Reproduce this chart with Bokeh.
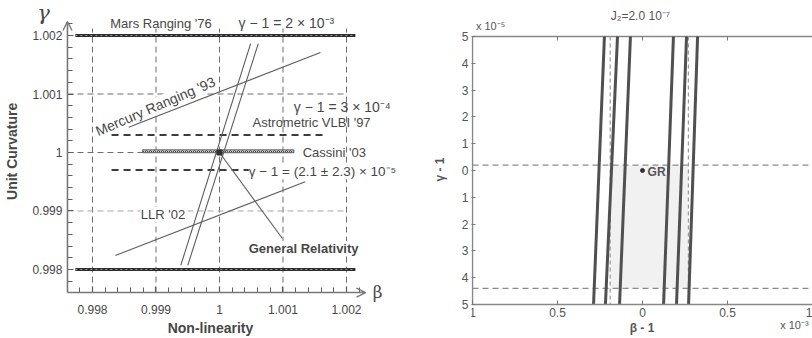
import math
from bokeh.plotting import figure
from bokeh.layouts import row
from bokeh.models import Range1d, FixedTicker, Label, Arrow, OpenHead
from bokeh.embed import file_html
from bokeh.resources import INLINE

FONT = "Liberation Sans"
INK = "#474747"
LINE = "#5c5c5c"

# ---------------- Left panel data (beta, gamma) ----------------
beta_ticks = [0.998, 0.999, 1.000, 1.001, 1.002]
beta_tick_labels = ["0.998", "0.999", "1", "1.001", "1.002"]
gamma_ticks = [0.998, 0.999, 1.000, 1.001, 1.002]
gamma_tick_labels = ["0.998", "0.999", "1", "1.001", "1.002"]
minor_ticks = [round(0.9978 + 0.0002 * i, 4) for i in range(23)]

mars_bound = 2e-3            # Mars Ranging '76 : gamma-1 = 2e-3
mars_beta_extent = [0.99773, 1.00214]
vlbi_bound = 3e-4            # Astrometric VLBI '97 : gamma-1 = 3e-4
vlbi_beta_extent = [0.99830, 1.00167]
cassini_center = 2.1e-5      # Cassini '03 : gamma-1 = (2.1 +- 2.3)e-5
cassini_sigma = 2.3e-5
cassini_beta_extent = [0.99879, 1.00117]

mercury_beta = [0.99857, 1.00159]
mercury_gamma = [1.00043, 1.00171]
llr_beta = [0.99836, 1.00135]
llr_gamma = [0.99824, 0.99950]
steep1_beta = [0.99939, 1.00049]
steep1_gamma = [0.99807, 1.00186]
steep2_beta = [0.99950, 1.00061]
steep2_gamma = [0.99807, 1.00186]
gr_beta = [1.0]
gr_gamma = [1.0]
gr_label_anchor = [1.00099, 0.99853]
grid_top = 1.00212

# ---------------- Right panel data (beta-1 [1e-3], gamma-1 [1e-5]) ----------------
dbeta_ticks = [-1, -0.5, 0, 0.5, 1]
dbeta_tick_labels = ["1", "0.5", "0", "0.5", "1"]
dgamma_ticks = [-5, -4, -3, -2, -1, 0, 1, 2, 3, 4, 5]
dgamma_tick_labels = ["5", "4", "3", "2", "1", "0", "1", "2", "3", "4", "5"]
band_dbeta_at_top = [-0.224, -0.147, -0.071, 0.182, 0.259, 0.324]
band_dbeta_at_bottom = [-0.288, -0.218, -0.135, 0.124, 0.200, 0.271]
cassini_dgamma = [-0.2, 4.4]
perihelion_dbeta = [-0.19, 0.27]
gr_dbeta = [0.0]
gr_dgamma = [0.0]

# ======================= LEFT FIGURE =======================
x_axis_at = 0.997606   # gamma value where the beta axis sits
y_axis_at = 0.997606   # beta value where the gamma axis sits
beta_arrow_tip = 1.00230
gamma_arrow_tip = 1.00224
xr = Range1d(0.9965512, 1.0031654)
yr = Range1d(0.9968205, 1.0025983)
left = figure(width=420, height=338, x_range=xr, y_range=yr, title=None,
              output_backend="svg", toolbar_location=None,
              min_border_left=0, min_border_right=0, min_border_top=0, min_border_bottom=0)
left.outline_line_color = None
left.grid.visible = False
left.background_fill_color = "white"
left.border_fill_color = "white"

for ax, ticks, labels in ((left.xaxis[0], beta_ticks, beta_tick_labels),
                          (left.yaxis[0], gamma_ticks, gamma_tick_labels)):
    ax.ticker = FixedTicker(ticks=ticks, minor_ticks=minor_ticks)
    ax.major_label_overrides = {t: l for t, l in zip(ticks, labels)}
    ax.axis_line_color = None
    ax.major_tick_in = 6
    ax.major_tick_out = 0
    ax.minor_tick_in = 5
    ax.minor_tick_out = 0
    ax.major_tick_line_color = LINE
    ax.minor_tick_line_color = LINE
    ax.major_tick_line_width = 1.2
    ax.major_label_text_font = FONT
    ax.major_label_text_font_size = "12px"
    ax.major_label_text_color = INK
    ax.axis_label_text_font = FONT
    ax.axis_label_text_font_size = "14px"
    ax.axis_label_text_font_style = "bold"
    ax.axis_label_text_color = INK

left.xaxis.fixed_location = x_axis_at
left.yaxis.fixed_location = y_axis_at
left.xaxis.axis_label = "Non-linearity"
left.xaxis.major_label_standoff = 12
left.xaxis.axis_label_standoff = 3
left.yaxis.major_label_standoff = 5

# dashed grid
left.segment(x0=beta_ticks, y0=[x_axis_at] * len(beta_ticks), x1=beta_ticks, y1=[grid_top] * len(beta_ticks),
             line_color="#6e6e6e", line_dash="6 4", line_width=1)
left.segment(x0=[y_axis_at], y0=[gamma_ticks[3]], x1=[beta_ticks[4]], y1=[gamma_ticks[3]],
             line_color="#6e6e6e", line_dash="6 4", line_width=1)
left.segment(x0=[y_axis_at], y0=[gamma_ticks[1]], x1=[beta_ticks[4]], y1=[gamma_ticks[1]],
             line_color="#a8a8a8", line_dash="6 4", line_width=1)
left.segment(x0=[y_axis_at], y0=[1.0], x1=[cassini_beta_extent[0]], y1=[1.0],
             line_color="#6e6e6e", line_dash="6 4", line_width=1)

# Mars ranging bounds
mars_y = [1 + mars_bound, 1 - mars_bound]
left.segment(x0=[mars_beta_extent[0]] * 2, y0=mars_y, x1=[mars_beta_extent[1]] * 2, y1=mars_y,
             line_color="#2e2e2e", line_width=3)
left.segment(x0=[mars_beta_extent[0]] * 2, y0=mars_y, x1=[mars_beta_extent[1]] * 2, y1=mars_y,
             line_color="#9a9a9a", line_width=1, line_dash="2 3")

# VLBI bounds
vlbi_y = [1 + vlbi_bound, 1 - vlbi_bound]
left.segment(x0=[vlbi_beta_extent[0]] * 2, y0=vlbi_y, x1=[vlbi_beta_extent[1]] * 2, y1=vlbi_y,
             line_color="#3c3c3c", line_width=2, line_dash="7 5")

# Cassini band
left.quad(left=[cassini_beta_extent[0]], right=[cassini_beta_extent[1]],
          bottom=[1 + cassini_center - cassini_sigma], top=[1 + cassini_center + cassini_sigma],
          fill_color="#d6d6d6", hatch_pattern="x", hatch_color="#444444", hatch_scale=4,
          hatch_weight=1, line_color="#707070", line_width=1.3)

# constraint lines
for bx, gy in ((mercury_beta, mercury_gamma), (llr_beta, llr_gamma),
               (steep1_beta, steep1_gamma), (steep2_beta, steep2_gamma)):
    left.line(bx, gy, line_color=LINE, line_width=1.1)

left.segment(x0=gr_beta, y0=gr_gamma, x1=[gr_label_anchor[0]], y1=[gr_label_anchor[1]],
             line_color="#666666", line_width=1.2)
left.scatter(gr_beta, gr_gamma, marker="square", size=5, color="#333333")

# axes lines with arrow heads
left.add_layout(Arrow(end=OpenHead(size=9, line_color="#777777", line_width=1.4),
                      x_start=y_axis_at, y_start=x_axis_at, x_end=y_axis_at, y_end=gamma_arrow_tip,
                      line_color="#777777", line_width=1.6))
left.add_layout(Arrow(end=OpenHead(size=9, line_color="#777777", line_width=1.4),
                      x_start=y_axis_at, y_start=x_axis_at, x_end=beta_arrow_tip, y_end=x_axis_at,
                      line_color="#777777", line_width=1.6))


def lab(fig, x, y, text, size="13px", style="normal", align="left", color=INK, font=FONT,
        angle=0.0, bg=None):
    fig.add_layout(Label(x=x, y=y, text=text, text_font=font, text_font_size=size,
                         text_font_style=style, text_align=align, text_baseline="middle",
                         text_color=color, angle=angle, background_fill_color=bg))


lab(left, 0.99674, 1.00002, "Unit Curvature", size="14px", style="bold", align="center",
    angle=math.pi / 2)
lab(left, 0.99723, 1.00239, "γ", size="21px", style="italic", align="center", font="DejaVu Serif")
lab(left, 1.00249, 0.99761, "β", size="17px", align="center", font="DejaVu Serif")
lab(left, 0.99828, 1.00221, "Mars Ranging '76")
lab(left, 1.00030, 1.00221, "γ − 1 = 2 × 10⁻³", size="14px")
lab(left, 1.00117, 1.00077, "γ − 1 = 3 × 10⁻⁴", size="14px")
lab(left, 1.00052, 1.00051, "Astrometric VLBI '97")
lab(left, 1.00131, 1.00000, "Cassini '03")
lab(left, 1.00046, 0.99967, "γ − 1 = (2.1 ± 2.3) × 10⁻⁵", size="13.5px", bg="white")
lab(left, 0.99876, 0.99894, "LLR '02", bg="white")
lab(left, 1.00046, 0.99836, "General Relativity", style="bold", bg="white")
lab(left, 0.99899, 1.00079, "Mercury Ranging '93", size="14px", align="center", angle=0.405, bg="white")

# ======================= RIGHT FIGURE =======================
right = figure(width=392, height=338, x_range=Range1d(-1.00588, 1.0), y_range=Range1d(6.269, -6.343),
               title=None, output_backend="svg", toolbar_location=None,
               min_border_left=51, min_border_right=0, min_border_top=0, min_border_bottom=0)
right.grid.visible = False
right.outline_line_color = None
right.background_fill_color = "white"
right.border_fill_color = "white"

for ax, ticks, labels in ((right.xaxis[0], dbeta_ticks, dbeta_tick_labels),
                          (right.yaxis[0], dgamma_ticks, dgamma_tick_labels)):
    ax.ticker = FixedTicker(ticks=ticks, minor_ticks=[])
    ax.major_label_overrides = {t: l for t, l in zip(ticks, labels)}
    ax.major_tick_in = 4
    ax.major_tick_out = 0
    ax.major_tick_line_color = "#777777"
    ax.major_label_text_font = FONT
    ax.major_label_text_font_size = "12px"
    ax.major_label_text_color = "#555555"
    ax.axis_label_text_font = FONT
    ax.axis_label_text_font_size = "12px"
    ax.axis_label_text_font_style = "bold"
    ax.axis_label_text_color = "#555555"

right.xaxis.axis_label = "β - 1"
right.xaxis.fixed_location = dgamma_ticks[-1]
right.xaxis.axis_line_color = "#888888"
right.xaxis.axis_line_width = 1.5
right.xaxis.major_label_standoff = 4
right.xaxis.axis_label_standoff = 0
right.yaxis.axis_label = "γ - 1"
right.yaxis.axis_line_color = None
right.yaxis.major_label_standoff = 3
right.yaxis.axis_label_standoff = 12

# frame borders (left and top) and top ticks
right.segment(x0=[dbeta_ticks[0], dbeta_ticks[0]], y0=[dgamma_ticks[0], dgamma_ticks[0]],
              x1=[dbeta_ticks[0], dbeta_ticks[-1]], y1=[dgamma_ticks[-1], dgamma_ticks[0]],
              line_color="#888888", line_width=1.5)
right.segment(x0=dbeta_ticks[1:4], y0=[dgamma_ticks[0]] * 3, x1=dbeta_ticks[1:4],
              y1=[dgamma_ticks[0] + 0.15] * 3, line_color="#777777", line_width=1)

# shaded Cassini x perihelion region
right.quad(left=[perihelion_dbeta[0]], right=[perihelion_dbeta[1]],
           bottom=[cassini_dgamma[1]], top=[cassini_dgamma[0]],
           fill_color="#f1f1f1", line_color=None)
right.segment(x0=[dbeta_ticks[0]] * 2, y0=cassini_dgamma, x1=[dbeta_ticks[-1]] * 2, y1=cassini_dgamma,
              line_color="#8c8c8c", line_dash="6 4", line_width=1.4)
right.segment(x0=perihelion_dbeta, y0=[dgamma_ticks[0]] * 2, x1=perihelion_dbeta, y1=[dgamma_ticks[-1]] * 2,
              line_color="#9a9a9a", line_dash="4 3", line_width=1.2)

right.segment(x0=band_dbeta_at_top, y0=[dgamma_ticks[0]] * len(band_dbeta_at_top),
              x1=band_dbeta_at_bottom, y1=[dgamma_ticks[-1]] * len(band_dbeta_at_bottom),
              line_color="#505050", line_width=3)

right.scatter(gr_dbeta, gr_dgamma, size=4, color="#333333")
lab(right, 0.03, 0.04, "GR", size="12px", style="bold", color="#555555")
lab(right, -0.98, -5.41, "x 10⁻⁵", size="11px", color="#555555")
lab(right, -0.012, -5.78, "J₂=2.0 10⁻⁷", size="12px", align="center", color="#555555")
lab(right, 0.81, 5.78, "x 10⁻³", size="11px", color="#555555")

layout = row(left, right)
open("out.html", "w").write(file_html(layout, INLINE))
